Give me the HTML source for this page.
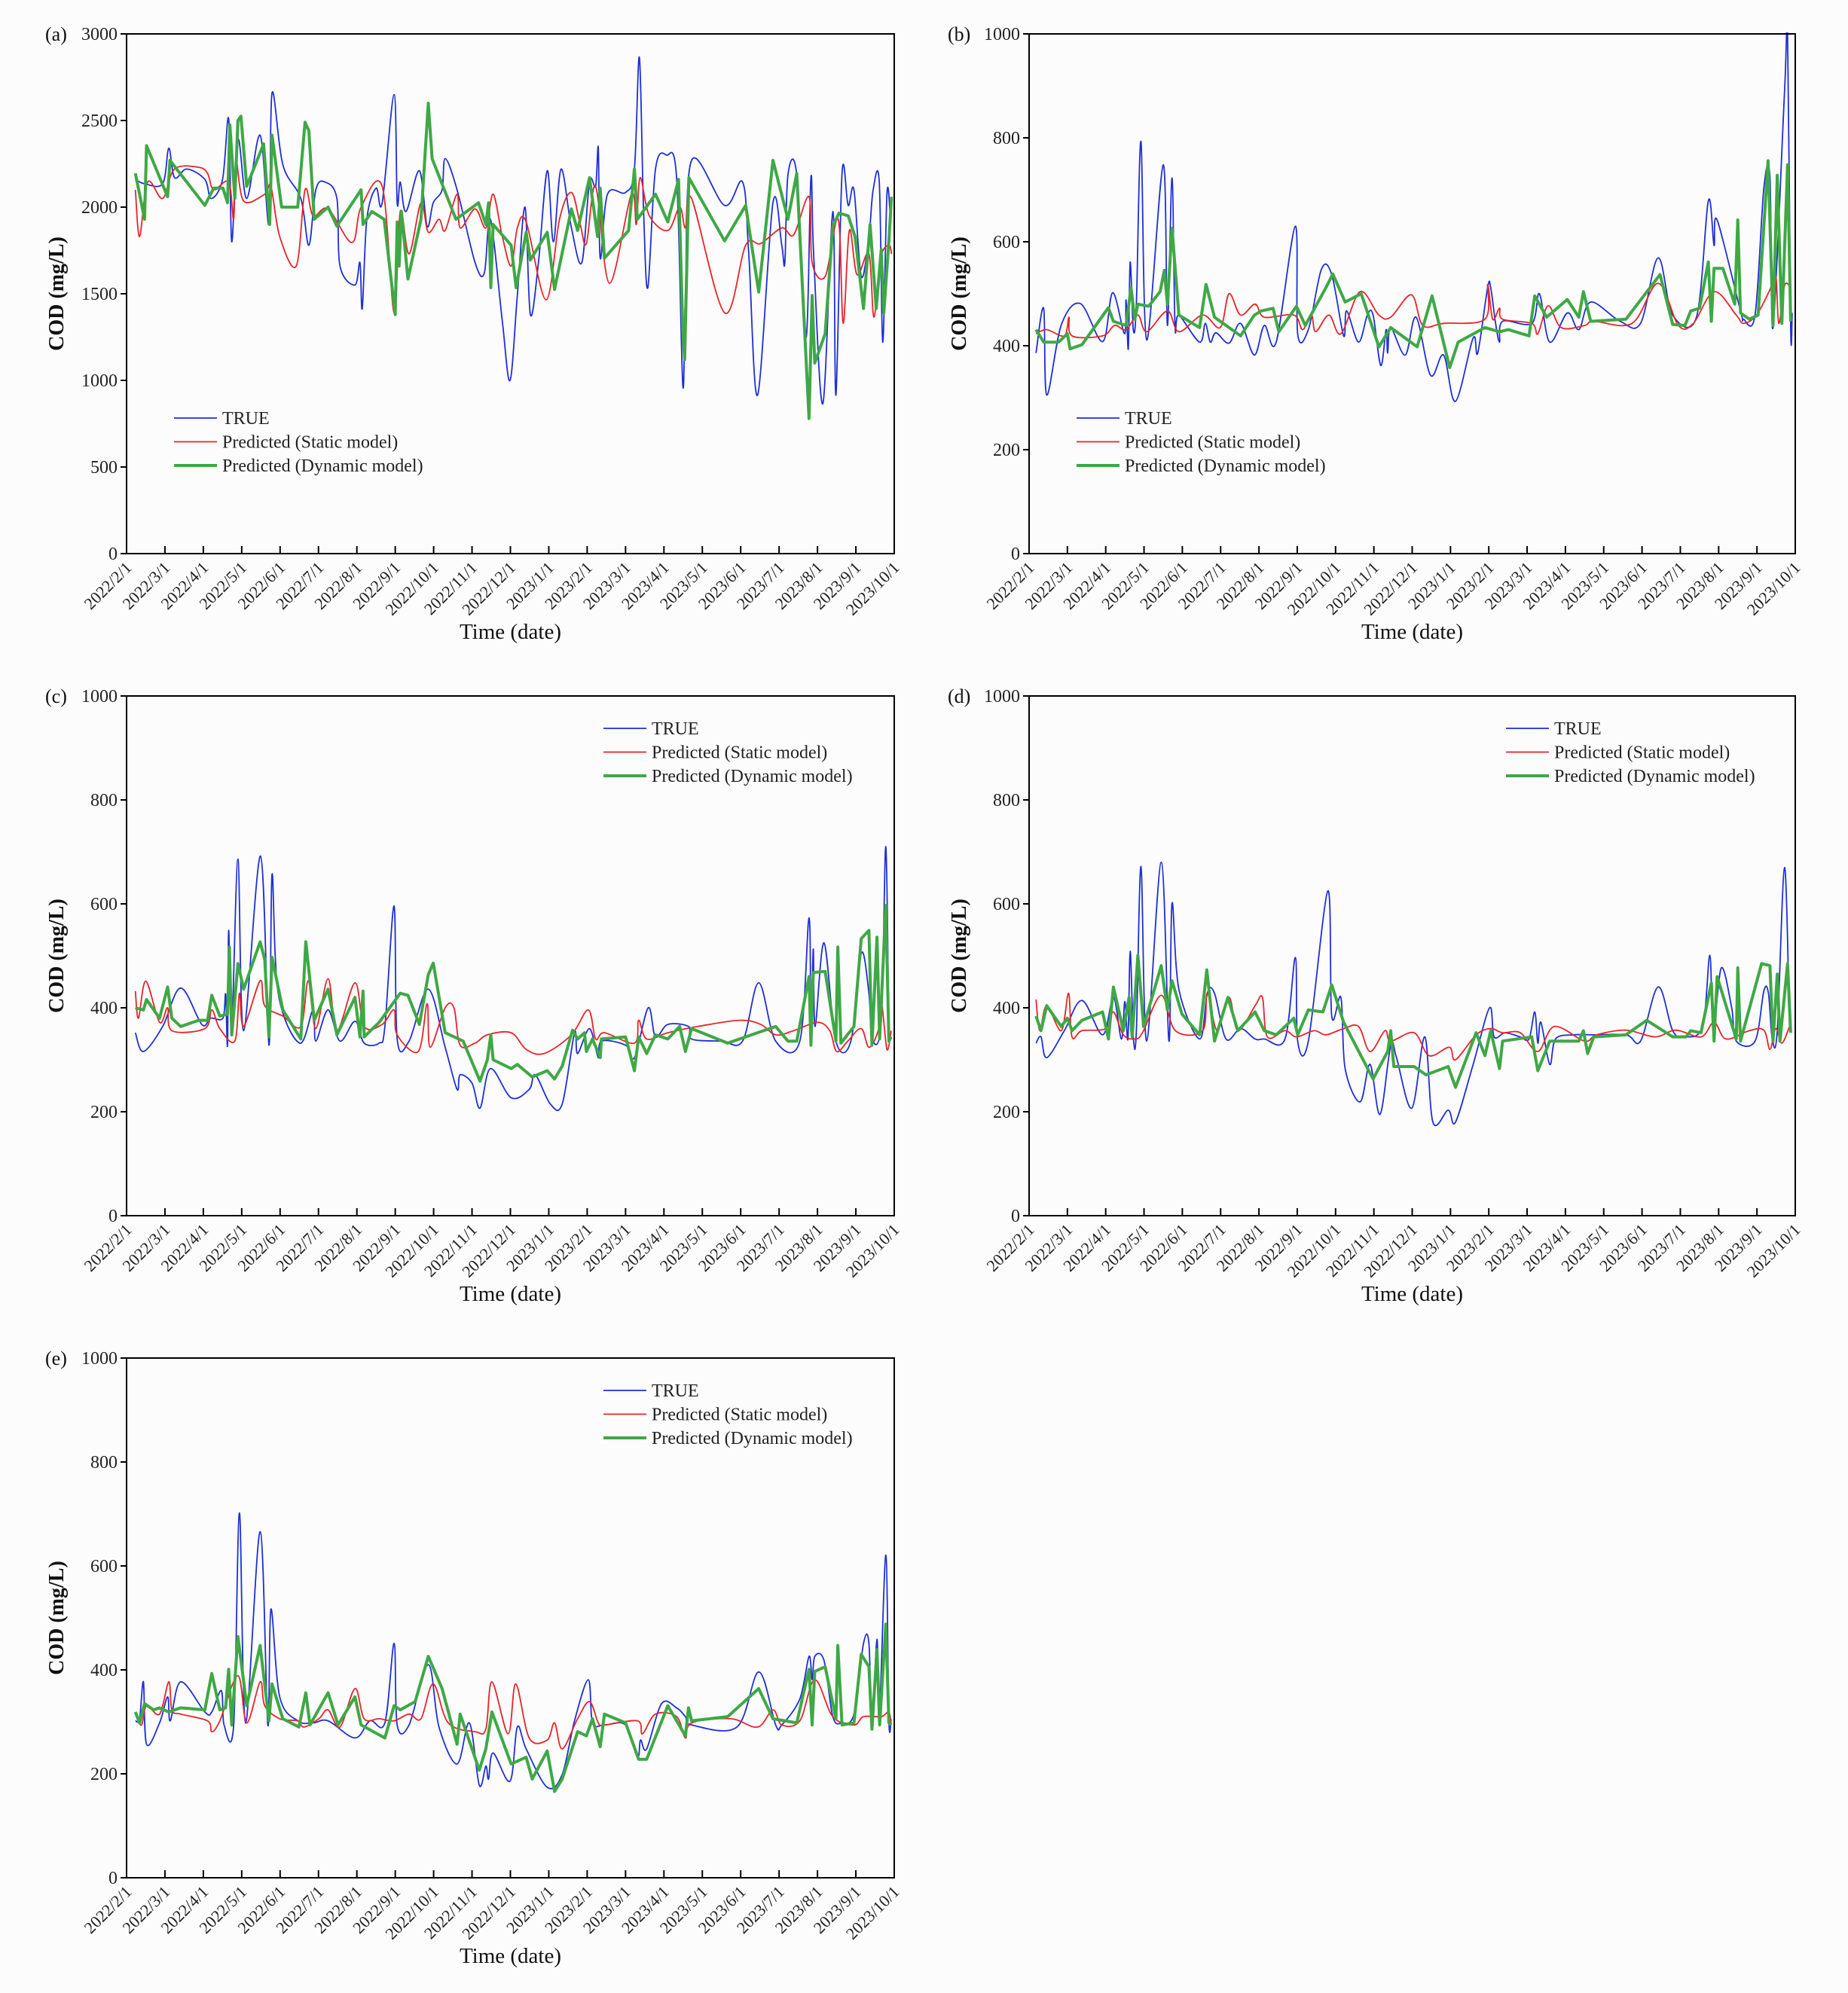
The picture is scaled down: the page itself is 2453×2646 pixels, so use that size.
<!DOCTYPE html>
<html><head><meta charset="utf-8"><title>COD prediction panels</title>
<style>
html,body{margin:0;padding:0;background:#fcfcfc;}
svg{display:block;font-family:"Liberation Serif",serif;}
</style></head>
<body>
<svg id="fig" width="2453" height="2646" viewBox="0 0 2453 2646" xmlns="http://www.w3.org/2000/svg"></svg>
<script>
// x values are months since 2022/2/1
const xTickLabels = ["2022/2/1","2022/3/1","2022/4/1","2022/5/1","2022/6/1","2022/7/1","2022/8/1","2022/9/1","2022/10/1","2022/11/1","2022/12/1","2023/1/1","2023/2/1","2023/3/1","2023/4/1","2023/5/1","2023/6/1","2023/7/1","2023/8/1","2023/9/1","2023/10/1"];
const seriesNames = ["TRUE","Predicted (Static model)","Predicted (Dynamic model)"];
const yTicksA = [0,500,1000,1500,2000,2500,3000];
const yTicksB = [0,200,400,600,800,1000];

const aTrue = [[0.23,2160],[0.47,2135],[0.94,2135],[1.1,2340],[1.25,2170],[1.57,2220],[2.04,2160],[2.2,2050],[2.5,2160],[2.66,2510],[2.74,1800],[2.9,2390],[3.13,2050],[3.48,2415],[3.71,1900],[3.79,2660],[4.07,2245],[4.54,2050],[4.75,1780],[4.93,2100],[5.17,2145],[5.48,2050],[5.56,1660],[5.95,1550],[6.08,1680],[6.14,1415],[6.26,1930],[6.5,2110],[6.66,2025],[6.97,2650],[7.05,2025],[7.13,2145],[7.28,1975],[7.63,2210],[7.83,1890],[7.99,2025],[8.22,2100],[8.3,2280],[8.61,2100],[9.08,1680],[9.32,1620],[9.48,1930],[9.79,1340],[9.99,1000],[10.18,1490],[10.38,2000],[10.52,1380],[10.73,1680],[10.96,2210],[11.12,1800],[11.32,2220],[11.59,1880],[11.86,1680],[12.06,2145],[12.22,2120],[12.29,2340],[12.34,1705],[12.53,2075],[13.0,2085],[13.23,2220],[13.36,2865],[13.47,1975],[13.58,1535],[13.78,2220],[14.07,2300],[14.33,2170],[14.49,975],[14.56,1490],[14.72,2270],[15.58,2010],[16.05,2145],[16.21,1730],[16.44,915],[16.84,2025],[17.07,1780],[17.15,1680],[17.23,2185],[17.46,2185],[17.7,1245],[17.83,2170],[17.9,1730],[18.14,865],[18.4,1975],[18.48,915],[18.64,2195],[18.8,2010],[18.95,2100],[19.14,1600],[19.34,1830],[19.45,2100],[19.61,2145],[19.7,1220],[19.81,2075],[19.89,1975]];
const aStatic = [[0.23,2100],[0.34,1830],[0.55,2145],[0.94,2050],[1.25,2220],[1.88,2230],[2.11,2195],[2.27,2100],[2.66,2145],[2.79,1930],[2.85,2270],[3.05,2035],[3.6,2075],[3.76,2120],[3.99,1830],[4.42,1660],[4.65,2100],[4.86,1950],[5.25,1990],[5.87,1795],[6.11,2000],[6.66,2120],[6.97,1390],[7.13,1975],[7.36,1730],[7.67,2025],[7.86,1855],[8.14,1930],[8.3,1865],[8.61,2075],[8.69,1880],[9.08,1990],[9.36,1880],[9.55,2075],[9.79,1830],[10.02,1660],[10.18,1880],[10.41,1915],[10.93,1465],[11.28,1930],[11.59,2085],[11.82,1900],[11.98,1790],[12.22,2120],[12.58,1560],[13.15,2075],[13.28,1900],[13.38,2170],[13.62,1950],[14.1,1865],[14.41,2000],[14.56,1880],[14.72,2050],[15.58,1390],[16.13,1780],[16.52,1790],[17.07,1880],[17.38,1840],[17.78,2060],[17.86,1680],[18.2,1600],[18.54,1930],[18.67,1330],[18.83,1865],[19.03,1610],[19.34,1730],[19.47,1365],[19.64,1705],[19.86,1780],[19.93,1730]];
const aDynamic = [[0.23,2195],[0.47,1930],[0.52,2355],[1.07,2060],[1.13,2270],[2.04,2010],[2.27,2110],[2.51,2110],[2.63,2025],[2.69,2475],[2.82,2050],[2.9,2500],[2.98,2525],[3.13,2120],[3.57,2365],[3.73,1900],[3.79,2415],[4.04,2000],[4.46,2000],[4.65,2490],[4.75,2440],[4.89,1930],[5.25,2000],[5.48,1890],[6.11,2100],[6.16,1900],[6.39,1975],[6.71,1930],[7.0,1380],[7.05,1915],[7.1,1660],[7.16,1975],[7.33,1585],[7.67,1930],[7.86,2600],[7.96,2280],[8.58,1930],[9.17,2025],[9.36,1900],[9.43,2025],[9.49,1535],[9.55,1900],[10.02,1780],[10.15,1535],[10.41,1855],[10.52,1695],[10.96,1855],[11.15,1525],[11.59,1990],[11.75,1865],[12.06,2170],[12.27,1830],[12.34,2110],[12.45,1705],[13.08,1865],[13.23,2220],[13.31,1930],[13.78,2075],[14.1,1915],[14.38,2160],[14.49,1295],[14.54,1120],[14.65,2170],[15.58,1805],[16.13,2010],[16.47,1510],[16.84,2270],[17.23,1930],[17.46,2195],[17.78,780],[17.86,1490],[17.93,1100],[18.2,1270],[18.4,1890],[18.56,1965],[18.8,1950],[18.98,1830],[19.2,1415],[19.37,1900],[19.53,1415],[19.66,1755],[19.73,1390],[19.86,1805],[19.93,2060]];

const bTrue = [[0.18,386],[0.38,472],[0.46,305],[0.84,440],[1.34,481],[1.92,408],[2.18,502],[2.49,423],[2.53,488],[2.59,394],[2.64,561],[2.72,431],[2.8,481],[2.92,793],[3.07,411],[3.5,748],[3.61,439],[3.73,723],[3.81,439],[3.91,459],[4.45,407],[4.6,443],[4.73,407],[4.88,425],[5.22,405],[5.52,443],[5.88,382],[6.14,439],[6.45,407],[6.95,630],[7.01,423],[7.29,431],[7.63,547],[7.9,537],[8.21,419],[8.29,467],[8.6,407],[8.83,459],[8.98,459],[9.18,362],[9.32,431],[9.36,386],[9.44,435],[9.82,382],[10.1,455],[10.48,343],[10.82,382],[11.13,293],[11.59,415],[11.71,386],[11.97,512],[12.05,512],[12.17,447],[12.28,407],[12.36,447],[13.12,443],[13.32,500],[13.59,407],[14.05,463],[14.35,431],[14.66,484],[15.43,447],[15.96,443],[16.42,569],[16.8,459],[17.42,455],[17.73,679],[17.88,593],[17.96,642],[18.57,467],[18.65,451],[18.95,459],[19.18,703],[19.34,724],[19.42,435],[19.72,890],[19.8,1000],[19.88,435],[19.92,463]];
const bStatic = [[0.18,423],[0.46,431],[0.92,419],[1.04,455],[1.12,419],[1.92,419],[2.23,439],[2.53,431],[2.84,459],[3.07,427],[3.61,467],[3.91,427],[4.53,459],[4.99,435],[5.22,500],[5.52,459],[5.9,480],[6.14,455],[6.91,459],[7.14,431],[7.37,459],[7.48,427],[7.83,459],[8.14,423],[8.64,504],[9.13,459],[9.44,455],[9.98,498],[10.28,439],[10.82,443],[11.9,451],[11.97,518],[12.1,451],[12.28,472],[12.36,451],[13.12,443],[13.28,423],[13.55,477],[13.89,435],[14.5,439],[14.74,447],[15.74,443],[16.42,520],[16.95,439],[17.34,443],[17.88,504],[18.46,459],[18.65,443],[18.99,459],[19.34,508],[19.49,535],[19.57,443],[19.72,516],[19.88,512]];
const bDynamic = [[0.18,431],[0.38,407],[0.77,407],[1.0,423],[1.07,394],[1.38,402],[2.07,473],[2.2,447],[2.53,439],[2.66,512],[2.76,451],[2.84,480],[3.12,476],[3.42,504],[3.53,545],[3.61,480],[3.73,626],[3.91,459],[4.45,435],[4.62,518],[4.84,455],[5.52,419],[5.88,459],[6.06,467],[6.37,472],[6.52,427],[6.98,476],[7.21,439],[7.75,512],[7.93,538],[8.25,484],[8.67,500],[9.13,398],[9.44,435],[10.13,398],[10.52,496],[10.98,358],[11.2,407],[11.9,435],[12.28,427],[12.51,431],[13.05,419],[13.2,496],[13.51,455],[14.05,489],[14.35,455],[14.47,504],[14.66,447],[15.58,451],[16.47,537],[16.8,441],[17.12,439],[17.27,467],[17.5,472],[17.73,561],[17.81,447],[17.88,549],[18.11,549],[18.42,480],[18.5,642],[18.57,463],[18.8,451],[19.03,459],[19.29,756],[19.42,439],[19.53,728],[19.65,443],[19.8,748],[19.88,447]];

const cTrue = [[0.23,352],[0.44,316],[0.94,364],[1.41,438],[1.96,368],[2.19,380],[2.51,380],[2.58,426],[2.63,328],[2.66,549],[2.74,356],[2.9,686],[3.05,356],[3.49,692],[3.71,328],[3.79,657],[3.95,428],[4.51,332],[4.86,396],[4.93,336],[5.25,396],[5.56,336],[5.95,374],[6.19,332],[6.58,332],[6.73,364],[6.97,596],[7.05,340],[7.36,336],[7.86,436],[8.3,324],[8.61,243],[8.69,271],[9.0,255],[9.21,207],[9.48,283],[10.02,227],[10.49,243],[10.65,271],[11.04,215],[11.35,215],[11.67,352],[11.75,312],[12.06,360],[12.29,304],[12.37,336],[13.0,328],[13.23,304],[13.59,400],[13.78,344],[14.1,368],[14.64,364],[14.72,340],[15.5,336],[16.05,336],[16.47,448],[16.91,336],[17.54,336],[17.78,573],[17.83,348],[17.89,513],[17.94,364],[18.17,525],[18.48,336],[18.87,336],[19.14,505],[19.34,428],[19.42,340],[19.66,372],[19.78,710],[19.86,340]];
const cStatic = [[0.23,432],[0.31,380],[0.5,451],[0.86,372],[1.07,400],[1.18,356],[2.04,360],[2.22,396],[2.43,360],[2.82,336],[2.94,428],[3.05,364],[3.48,452],[3.6,404],[4.07,384],[4.54,364],[4.73,452],[4.93,360],[5.25,456],[5.48,356],[5.95,448],[6.19,364],[6.66,368],[6.97,396],[7.05,348],[7.6,316],[7.83,408],[7.91,324],[8.3,400],[8.53,400],[8.69,328],[9.08,332],[9.4,348],[10.02,352],[10.41,320],[10.88,312],[11.59,348],[12.03,396],[12.22,340],[12.45,352],[13.23,332],[13.34,376],[13.55,340],[14.1,352],[14.88,364],[15.97,376],[16.52,368],[16.91,348],[17.38,356],[18.0,372],[18.32,356],[18.5,316],[18.79,336],[19.14,360],[19.34,324],[19.58,356],[19.67,408],[19.81,320],[19.92,356]];
const cDynamic = [[0.23,400],[0.44,396],[0.52,416],[0.86,380],[1.07,440],[1.18,380],[1.41,364],[1.88,376],[2.11,376],[2.22,424],[2.43,384],[2.63,388],[2.68,517],[2.74,348],[2.9,485],[3.05,436],[3.48,527],[3.6,493],[3.71,344],[3.79,497],[4.07,396],[4.54,340],[4.67,527],[4.89,376],[5.25,436],[5.48,348],[5.95,420],[6.08,344],[6.16,432],[6.19,344],[6.58,372],[7.13,428],[7.33,424],[7.63,368],[7.86,464],[7.99,486],[8.3,352],[8.77,336],[9.21,259],[9.4,300],[9.49,348],[9.55,300],[10.02,283],[10.18,291],[10.57,267],[10.96,279],[11.15,263],[11.35,288],[11.62,357],[11.75,340],[11.93,352],[11.98,316],[12.14,340],[12.34,304],[12.37,340],[13.0,344],[13.23,279],[13.34,344],[13.55,312],[13.78,348],[14.1,340],[14.41,364],[14.56,316],[14.72,360],[15.66,332],[16.91,364],[17.23,336],[17.46,336],[17.78,460],[17.83,328],[17.89,468],[18.2,470],[18.48,336],[18.53,517],[18.61,332],[18.95,364],[19.14,533],[19.34,549],[19.42,328],[19.55,536],[19.62,340],[19.78,597],[19.86,336],[19.92,344]];

const dTrue = [[0.18,332],[0.31,344],[0.46,304],[0.92,356],[1.38,414],[1.92,348],[2.2,420],[2.41,340],[2.5,412],[2.58,340],[2.64,509],[2.72,344],[2.8,356],[2.92,672],[3.07,336],[3.45,680],[3.65,336],[3.73,601],[3.91,436],[4.45,340],[4.65,428],[4.84,428],[5.14,340],[5.52,360],[5.9,340],[6.14,340],[6.68,340],[6.95,497],[7.01,336],[7.29,336],[7.8,625],[7.9,384],[8.14,420],[8.25,283],[8.64,219],[8.9,291],[9.16,195],[9.44,328],[9.59,304],[9.99,207],[10.33,344],[10.54,180],[10.94,203],[11.13,180],[11.59,291],[12.02,400],[12.14,344],[12.43,352],[12.82,344],[13.05,340],[13.2,392],[13.28,332],[13.36,372],[13.59,291],[13.74,340],[14.2,348],[14.66,348],[15.58,348],[15.96,336],[16.42,440],[16.8,356],[17.12,344],[17.58,364],[17.77,501],[17.86,356],[18.07,477],[18.34,400],[18.46,336],[18.95,336],[19.18,432],[19.3,428],[19.4,340],[19.53,356],[19.72,670],[19.85,364]];
const dStatic = [[0.18,416],[0.28,356],[0.46,404],[0.84,356],[1.03,428],[1.12,344],[1.38,356],[2.0,360],[2.2,392],[2.46,348],[2.76,340],[2.96,352],[3.45,424],[3.82,356],[4.53,356],[4.65,428],[4.91,356],[5.22,420],[5.45,356],[5.9,404],[6.09,420],[6.22,344],[6.68,356],[6.98,344],[7.44,356],[7.75,348],[8.21,360],[8.6,364],[8.9,316],[9.29,356],[9.44,336],[10.05,352],[10.44,308],[10.97,324],[11.13,300],[11.67,348],[12.05,360],[12.36,352],[12.82,352],[13.28,316],[13.71,364],[14.5,336],[14.81,348],[15.58,357],[16.34,344],[16.88,357],[17.54,344],[17.88,372],[18.19,340],[18.8,356],[19.18,357],[19.34,320],[19.49,360],[19.65,332],[19.85,364]];
const dDynamic = [[0.18,384],[0.31,356],[0.46,404],[0.84,364],[1.0,380],[1.12,356],[1.38,376],[1.92,392],[2.07,340],[2.2,440],[2.46,356],[2.61,420],[2.69,344],[2.84,501],[2.99,364],[3.45,481],[3.61,396],[3.73,452],[3.99,388],[4.45,348],[4.64,473],[4.84,336],[5.19,420],[5.45,356],[5.9,392],[6.14,356],[6.45,348],[6.91,380],[7.01,348],[7.29,396],[7.67,392],[7.9,444],[8.21,372],[8.98,263],[9.36,316],[9.44,356],[9.52,287],[10.05,287],[10.36,271],[10.94,287],[11.13,247],[11.67,352],[11.9,308],[12.05,356],[12.28,283],[12.36,336],[13.12,344],[13.28,279],[13.59,336],[14.35,336],[14.47,356],[14.58,312],[14.74,344],[15.58,348],[16.12,376],[16.8,344],[17.15,344],[17.27,356],[17.54,352],[17.81,448],[17.88,336],[17.96,460],[18.46,340],[18.5,477],[18.57,336],[19.12,485],[19.34,481],[19.42,336],[19.53,465],[19.6,336],[19.8,485],[19.88,352]];

const eTrue = [[0.23,302],[0.34,306],[0.44,377],[0.52,257],[0.86,298],[1.07,348],[1.14,302],[1.41,377],[2.04,319],[2.22,319],[2.47,360],[2.54,294],[2.79,294],[2.94,702],[3.1,298],[3.48,666],[3.68,294],[3.76,517],[3.99,348],[4.46,302],[4.86,298],[5.25,302],[5.95,269],[6.34,302],[6.73,298],[6.97,451],[7.05,294],[7.36,294],[7.86,410],[8.14,290],[8.61,219],[8.93,298],[9.19,178],[9.36,215],[9.43,190],[9.55,240],[9.99,186],[10.18,290],[10.41,248],[10.96,174],[11.35,199],[11.67,302],[12.03,381],[12.14,298],[12.45,294],[13.0,294],[13.31,232],[13.39,265],[13.55,248],[13.94,335],[14.33,327],[14.56,310],[14.72,294],[15.9,290],[16.47,396],[16.91,294],[17.07,294],[17.54,344],[17.78,426],[17.86,381],[17.93,426],[18.17,418],[18.4,310],[18.64,298],[18.95,315],[19.2,451],[19.34,451],[19.42,298],[19.55,459],[19.61,306],[19.78,621],[19.86,302],[19.92,306]];
const eStatic = [[0.23,315],[0.39,294],[0.52,331],[0.86,315],[1.1,377],[1.18,323],[1.41,315],[2.11,302],[2.22,281],[2.43,302],[2.9,389],[3.13,298],[3.48,377],[3.6,331],[3.99,306],[4.46,302],[4.62,290],[5.01,306],[5.25,323],[5.56,290],[5.95,364],[6.19,306],[6.58,306],[6.97,302],[7.36,315],[7.67,306],[7.99,373],[8.38,298],[9.08,281],[9.36,286],[9.52,377],[9.94,277],[10.14,373],[10.49,269],[10.96,265],[11.15,298],[11.35,248],[11.75,306],[12.06,339],[12.29,298],[12.45,294],[13.31,302],[13.44,277],[13.78,315],[14.33,310],[14.56,269],[14.72,298],[15.74,306],[16.44,290],[16.84,323],[17.07,294],[17.54,302],[17.93,381],[18.4,310],[18.95,294],[19.2,310],[19.66,310],[19.86,319],[19.92,294]];
const eDynamic = [[0.23,319],[0.34,298],[0.47,335],[0.7,323],[0.86,327],[1.1,319],[1.41,327],[2.04,323],[2.22,393],[2.43,323],[2.58,327],[2.66,401],[2.74,294],[2.9,464],[3.13,331],[3.48,447],[3.71,302],[3.79,373],[4.07,306],[4.49,290],[4.67,356],[4.78,294],[5.25,356],[5.51,294],[5.95,348],[6.11,294],[6.73,269],[6.97,331],[7.13,323],[7.52,339],[7.86,426],[8.22,364],[8.61,257],[8.69,315],[9.19,207],[9.36,248],[9.52,319],[10.02,219],[10.41,232],[10.57,190],[10.96,244],[11.15,166],[11.35,190],[11.75,281],[11.98,273],[12.14,306],[12.34,252],[12.45,315],[13.0,298],[13.34,228],[13.55,228],[14.1,331],[14.56,273],[14.64,327],[14.72,302],[15.66,310],[16.47,364],[16.84,306],[17.46,298],[17.78,401],[17.86,294],[17.93,397],[18.2,406],[18.48,306],[18.53,447],[18.64,294],[18.95,298],[19.14,430],[19.34,406],[19.42,286],[19.55,439],[19.62,294],[19.78,488],[19.86,298],[19.92,294]];

const NS = "http://www.w3.org/2000/svg";
const svg = document.getElementById('fig');
function mk(tag, attrs, parent){
  const e = document.createElementNS(NS, tag);
  for (const k in attrs) e.setAttribute(k, attrs[k]);
  (parent||svg).appendChild(e);
  return e;
}
const COLORS = ["#1f2fd6","#e8242a","#3fa845"];
const WIDTHS = [1.8,1.8,4];

function smoothPath(pts){
  let d = "M"+pts[0][0].toFixed(1)+","+pts[0][1].toFixed(1);
  for (let i=0;i<pts.length-1;i++){
    const p0=pts[i-1]||pts[i], p1=pts[i], p2=pts[i+1], p3=pts[i+2]||p2;
    const c1x=p1[0]+(p2[0]-p0[0])/6, c1y=p1[1]+(p2[1]-p0[1])/6;
    const c2x=p2[0]-(p3[0]-p1[0])/6, c2y=p2[1]-(p3[1]-p1[1])/6;
    d += " C"+c1x.toFixed(1)+","+c1y.toFixed(1)+" "+c2x.toFixed(1)+","+c2y.toFixed(1)+" "+p2[0].toFixed(1)+","+p2[1].toFixed(1);
  }
  return d;
}
function linePath(pts){
  return pts.map((p,i)=>(i?"L":"M")+p[0].toFixed(1)+","+p[1].toFixed(1)).join(" ");
}

function panel(id, L, T, R, B, yTicks, series, legendPos){
  const g = mk('g', {});
  
  
  const ymax = yTicks[yTicks.length-1];
  const xs = m => L + (m/20)*(R-L);
  const ys = v => B - (v/ymax)*(B-T);
  const clipId = 'clip-'+id;
  const cp = mk('clipPath', {id: clipId}, g);
  mk('rect', {x:L, y:T-2, width:R-L, height:B-T+2}, cp);
  // series
  series.forEach((s, si) => {
    const pts = s.map(p => [xs(p[0]), ys(p[1])]);
    const p = mk('path', {d: si===2 ? linePath(pts) : smoothPath(pts), fill:'none', stroke:COLORS[si], 'stroke-width':WIDTHS[si], 'stroke-linejoin':'round', 'clip-path':'url(#'+clipId+')'}, g);
    
    
  });
  // frame
  const f = mk('rect', {x:L, y:T, width:R-L, height:B-T, fill:'none', stroke:'#000', 'stroke-width':2}, g);
  
  
  // y ticks
  yTicks.forEach(v => {
    const y = ys(v);
    mk('line', {x1:L-8, x2:L, y1:y, y2:y, stroke:'#000', 'stroke-width':2}, g);
    const t = mk('text', {x:L-12, y:y+8, 'text-anchor':'end', 'font-size':24, fill:'#222'}, g);
    t.textContent = v;
    
    
  });
  // x ticks
  xTickLabels.forEach((lab, i) => {
    const x = xs(i);
    mk('line', {x1:x, x2:x, y1:B-10, y2:B, stroke:'#000', 'stroke-width':2}, g);
    const t = mk('text', {x:x+8, y:B+20, 'text-anchor':'end', 'font-size':22, fill:'#222', transform:'rotate(-45 '+(x+8)+' '+(B+20)+')'}, g);
    t.textContent = lab;
    
    
  });
  // titles
  const xt = mk('text', {x:(L+R)/2, y:B+113, 'text-anchor':'middle', 'font-size':29, fill:'#111'}, g);
  xt.textContent = 'Time (date)';
  
  
  const yc = L-84, ymid = (T+B)/2;
  const yt = mk('text', {x:yc, y:ymid, 'text-anchor':'middle', 'font-size':28, 'font-weight':'bold', fill:'#111', transform:'rotate(-90 '+yc+' '+ymid+')'}, g);
  yt.textContent = 'COD (mg/L)';
  
  
  const pl = mk('text', {x:L-108, y:T+9, 'font-size':26, fill:'#111'}, g);
  pl.textContent = '('+id+')';
  
  
  // legend
  const lx = legendPos==='bl' ? L+63 : L+633;
  const ly = legendPos==='bl' ? T+510 : T+43;
  seriesNames.forEach((nm, i) => {
    const y = ly + i*31.5;
    const ln = mk('line', {x1:lx, x2:lx+57, y1:y, y2:y, stroke:COLORS[i], 'stroke-width':WIDTHS[i]}, g);
    
    
    const t = mk('text', {x:lx+64, y:y+8, 'font-size':24, fill:'#222'}, g);
    t.textContent = nm;
    
    
  });
}

panel('a', 168, 45, 1187, 735, yTicksA, [aTrue, aStatic, aDynamic], 'bl');
panel('b', 1366, 45, 2383, 735, yTicksB, [bTrue, bStatic, bDynamic], 'bl');
panel('c', 168, 924, 1187, 1614, yTicksB, [cTrue, cStatic, cDynamic], 'tr');
panel('d', 1366, 924, 2383, 1614, yTicksB, [dTrue, dStatic, dDynamic], 'tr');
panel('e', 168, 1803, 1187, 2493, yTicksB, [eTrue, eStatic, eDynamic], 'tr');
</script>
</body></html>
